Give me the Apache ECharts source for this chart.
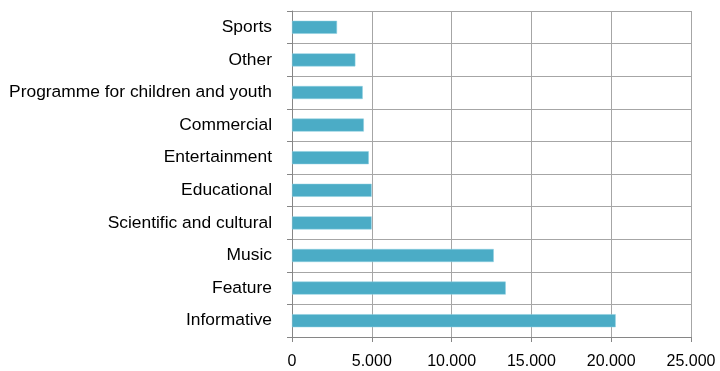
<!DOCTYPE html>
<html>
<head>
<meta charset="utf-8">
<script src="https://cdn.jsdelivr.net/npm/echarts@6/dist/echarts.min.js"></script>
<style>
	html, body{
		margin: 0;
		padding: 0;
		background: #fff;
	}
	#chart_box{
		width: 720px;
		height: 371px;
	}
</style>
</head>
<body>
<div id="chart_box"></div>
<script type="text/javascript">
var categories = ['Informative', 'Feature', 'Music', 'Scientific and cultural', 'Educational',
	'Entertainment', 'Commercial', 'Programme for children and youth', 'Other', 'Sports'];
var values = [20280, 13390, 12640, 4990, 4990, 4810, 4500, 4430, 3970, 2820];
var xTicks = [0, 5000, 10000, 15000, 20000, 25000];

var myChart = echarts.init(document.getElementById('chart_box'));

var option = {
	animation: false,
	grid: {
		left: 292,
		right: 29,
		top: 11,
		bottom: 34,
		containLabel: false
	},
	xAxis: {
		type: 'value',
		min: xTicks[0],
		max: xTicks[xTicks.length - 1],
		interval: xTicks[1] - xTicks[0],
		axisLine: { show: true, lineStyle: { color: '#868686', width: 1 } },
		axisTick: { show: true, length: 5, lineStyle: { color: '#868686' } },
		splitLine: { show: true, lineStyle: { color: '#a6a6a6', width: 1 } },
		axisLabel: {
			color: '#000',
			fontFamily: 'Liberation Sans',
			fontSize: 16,
			margin: 17,
			formatter: function(v) {
				return String(v).replace(/\B(?=(\d{3})+(?!\d))/g, '.');
			}
		}
	},
	yAxis: {
		type: 'category',
		data: categories,
		axisLine: { show: true, lineStyle: { color: '#868686', width: 1 } },
		axisTick: { show: true, length: 5, lineStyle: { color: '#868686' } },
		splitLine: { show: true, lineStyle: { color: '#a6a6a6', width: 1 } },
		axisLabel: {
			color: '#000',
			fontFamily: 'Liberation Sans',
			fontSize: 17.4,
			margin: 20
		}
	},
	series: [
		{
			type: 'bar',
			data: values,
			barWidth: 13,
			itemStyle: {
				color: '#4BACC6',
				borderColor: '#8ccfe0',
				borderWidth: 0.5
			}
		}
	]
};
myChart.setOption(option);
</script>
</body>
</html>
